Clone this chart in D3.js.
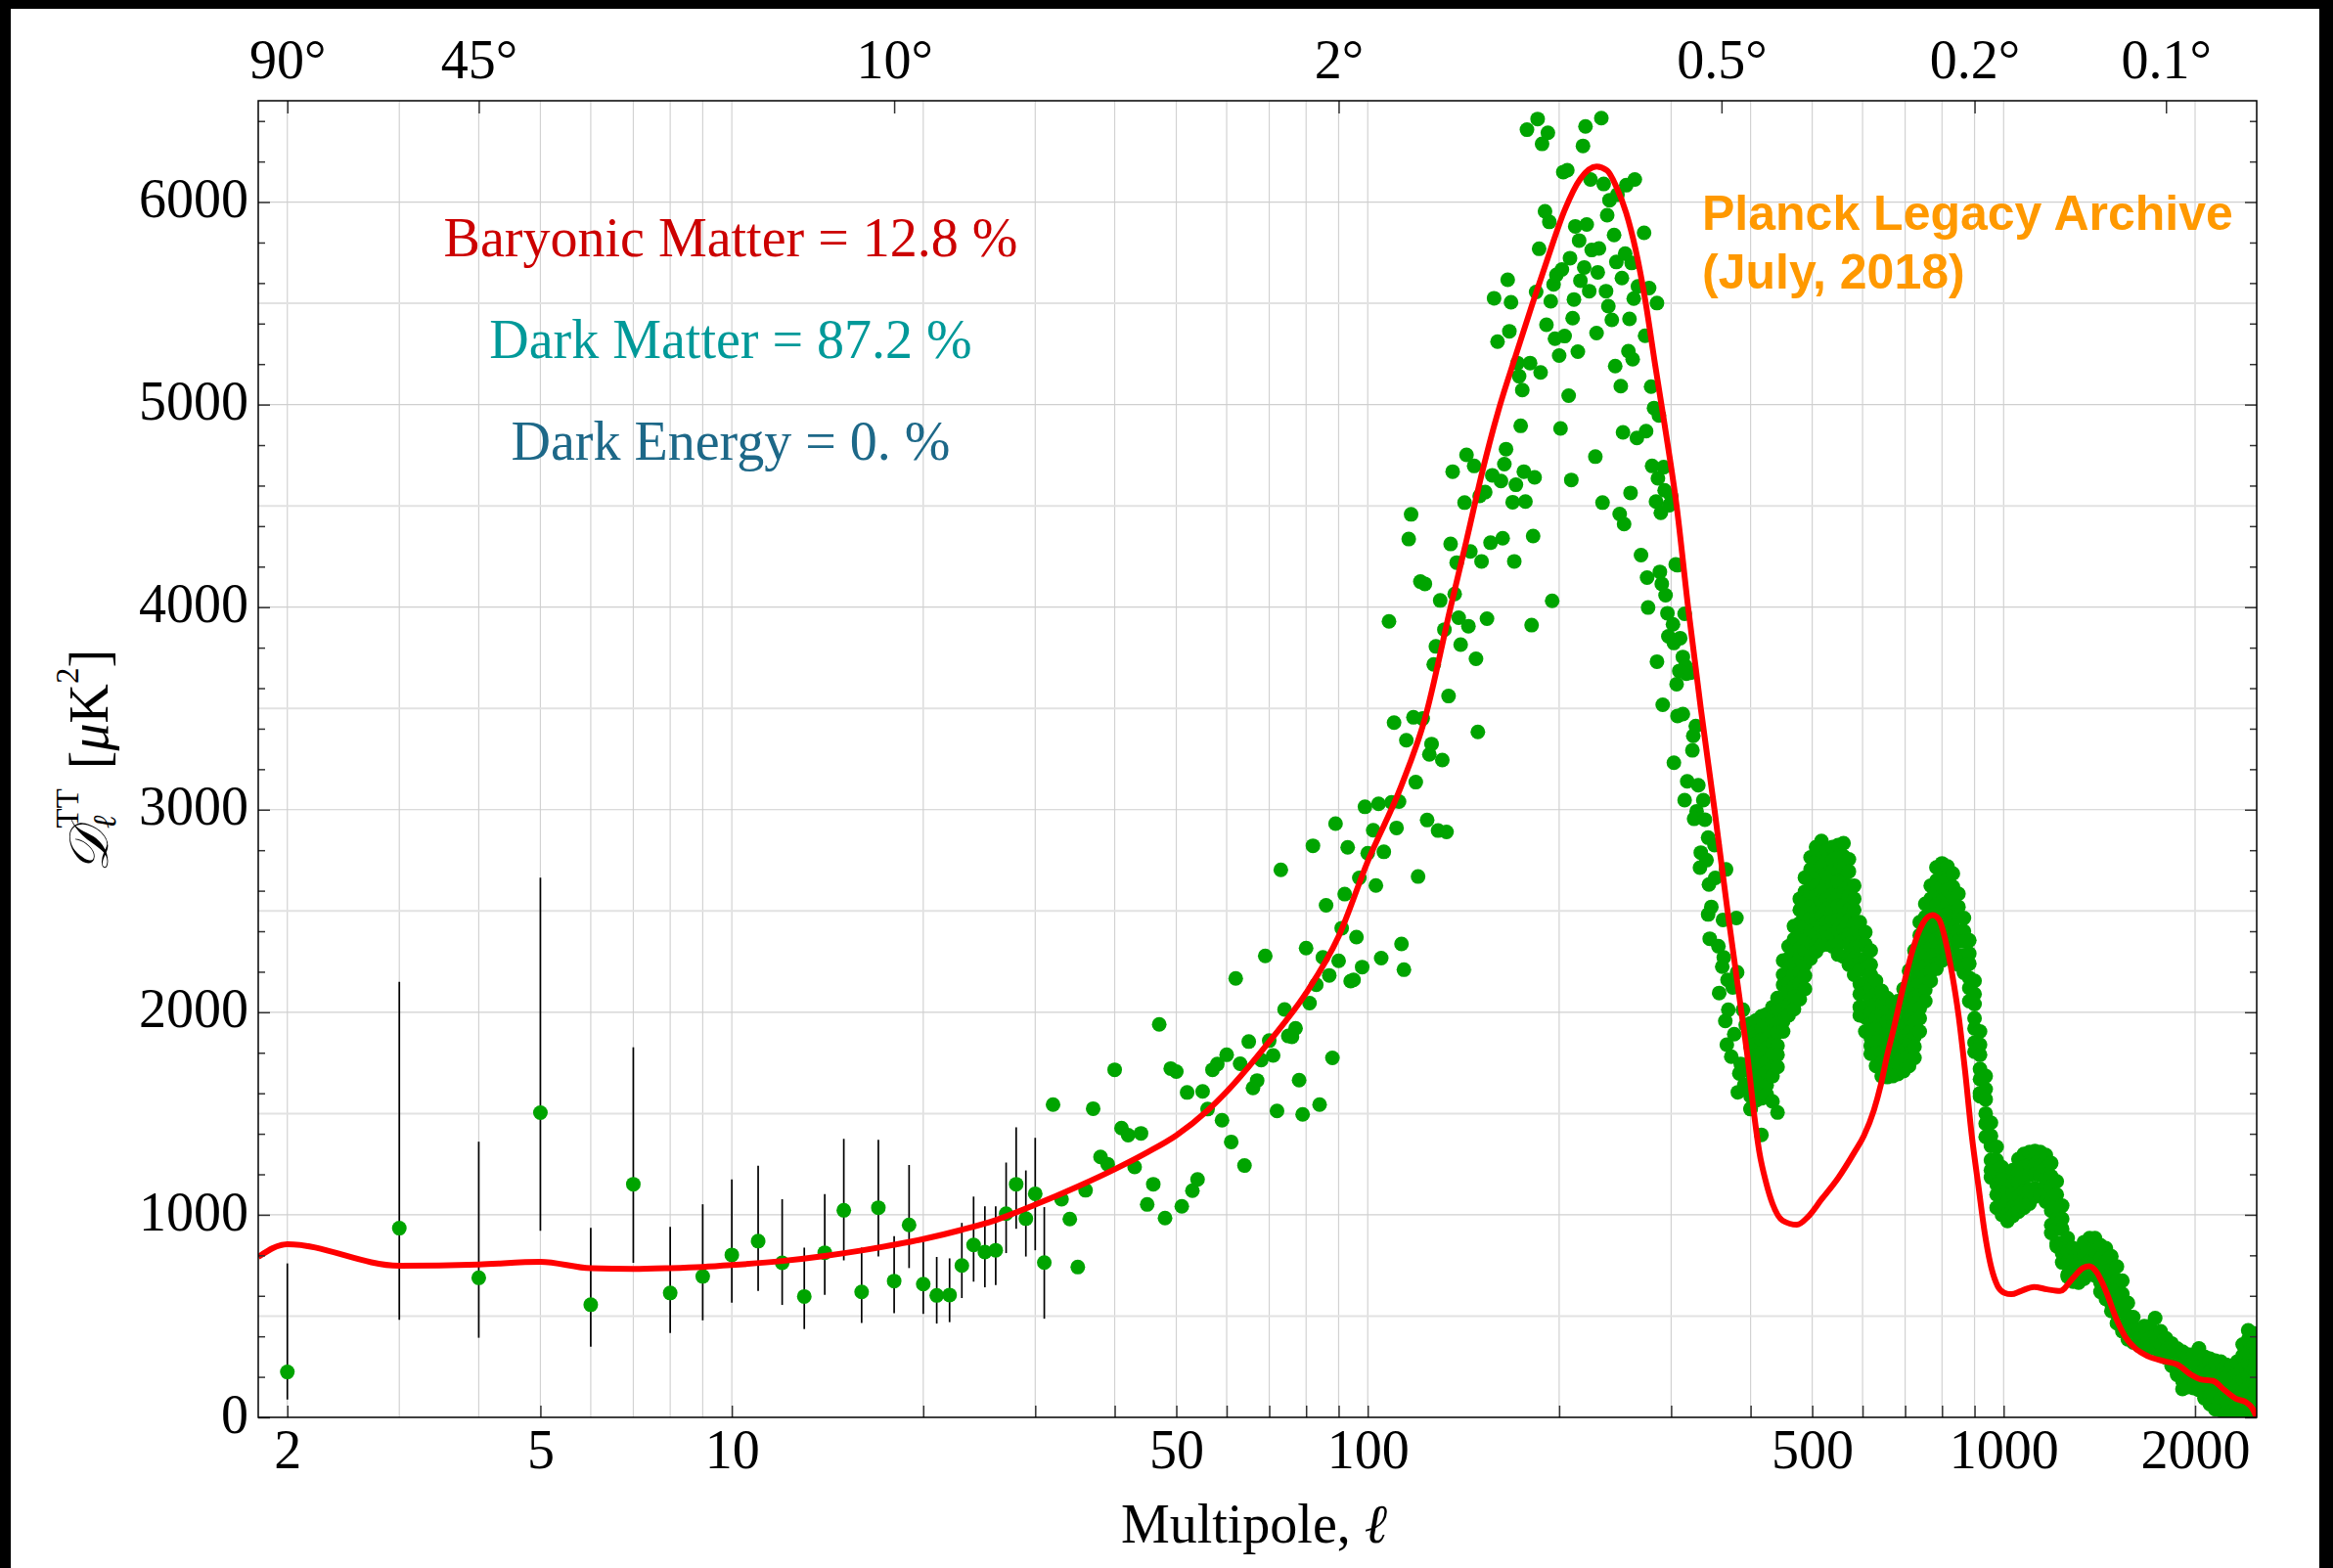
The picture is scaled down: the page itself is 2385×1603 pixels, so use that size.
<!DOCTYPE html>
<html><head><meta charset="utf-8">
<script src="https://cdn.jsdelivr.net/npm/d3@7"></script>
<style>
html,body{margin:0;padding:0;background:#000;}
svg{display:block;}
</style></head>
<body>
<svg id="chart" width="2385" height="1603"></svg>
<script>
// ---------------- DATA ----------------
// low-l points with error bars
const lowEll = [2,3,4,5,6,7,8,9,10,11,12,13,14,15,16,17,18,19,20,21,22,23,24,25,26,27,28,29,30,31];
const lowD   = [224,934,689,1504,556,1151,614,696,802,870,763,597,813,1022,619,1035,673,950,658,602,604,750,851,816,825,1006,1151,981,1104,764];
const lowLo  = [88,482,393,921,349,763,417,479,566,624,555,436,605,775,466,794,514,737,511,463,470,589,670,642,653,811,931,794,825,487];
const lowHi  = [760,2150,1361,2665,936,1827,941,1052,1175,1242,1077,838,1102,1375,838,1370,895,1246,868,792,785,960,1090,1042,1042,1258,1432,1219,1380,1038];

// scattered points, rising part
const risePts = [[32,1544],[33,1077],[34,979],[35,742],[36,1121],[37,1524],[38,1286],[39,1250],[40,1716],[41,1428],[42,1393],[43,1236],[44,1402],[45,1051],[46,1151],[47,1940],[48,984],[49,1722],[50,1707],[51,1042],[52,1604],[53,1119],[54,1175],[55,1609],[56,1522],[57,1716],[58,1744],[59,1467],[60,1790],[61,1360],[62,2167],[63,1746],[64,1243],[65,1855],[66,1626],[67,1663],[68,1764],[69,2278],[70,1860],[71,1787],[72,1513],[73,2703],[74,2014],[75,1883],[76,1879],[77,1921],[78,1665],[79,1496],[80,2317],[81,2045],[82,2822],[83,2136],[84,1544],[85,2271],[86,2528],[87,2182],[88,1775],[89,2931],[90,2254],[91,2415],[92,2583],[93,2814],[94,2154],[95,2160],[96,2371],[97,2663],[98,2223],[99,3014],[100,2785],
[102,2899],[103,2626],[104,3029],[105,2267],[106,2792],[109,3036],[110,3430],[111,2910],[112,3040],[113,2337],[114,2210],[115,3343],[118,3456],[119,3136],[120,2670],[122,3450],[124,2949],[125,3273],[126,3324],[129,2897],[131,3245],[133,2890],[134,3561],[149,3384]];

// scattered points, first acoustic peak
const peakPts = [[108,3930],[117,4458],[116,4336],[121,4126],[123,4115],[127,3717],[128,3806],[130,4033],[132,3889],[135,4312],[136,4669],[137,4065],[139,3948],[138,4220],[140,3815],[142,4516],[143,4752],[144,3906],[145,4275],[147,4697],[148,3745],[150,4549],[151,4226],[153,4568],[154,3943],[156,4318],[157,4651],[158,5525],[160,5311],[162,4623],[163,4340],[164,4706],[165,4780],[166,5616],[167,5362],[168,5505],[169,4518],[170,4226],[171,4604],[172,5205],[173,5140],[174,4895],[175,5072],[176,4669],[177,4521],[178,6357],[180,5205],[181,3911],[182,4351],[183,4641],[184,5556],[185,6410],[186,5769],[187,5159],[188,6287],[190,5954],[191,5394],[192,6342],[193,5902],[194,5510],[195,4031],[196,5593],[197,5325],[198,5640],[200,5242],[201,4882],[202,5667],[203,6148],[204,5338],[206,6157],[207,5044],[208,5723],[209,4628],[210,5427],[211,5519],[212,5880],[214,5261],[215,5810],[216,5612],[218,6277],[219,5677],[220,6373],[221,5889],[223,5560],[224,6111],[225,5763],[228,4743],[229,5353],[230,5653],[231,5771],[233,6414],[234,4516],[235,6089],[237,5560],[238,5935],[239,5486],[240,6009],[242,5418],[244,5837],[245,5190],[246,5704],[247,6037],[249,4460],[250,5091],[251,5625],[252,4863],[253,4410],[254,5745],[255,6083],[257,5264],[258,5423],[259,4564],[260,5699],[261,5224],[262,5523],[263,6111],[265,4835],[266,5584],[269,4257],[272,5848],[273,5340],[274,4869],[275,4146],[276,3998],[277,5575],[279,5089],[280,4697],[282,4983],[284,4521],[285,5501],[286,4636],[287,4946],[288,4174],[289,4466],[290,4115],[292,4691],[293,4577],[294,4059],[296,3970],[297,3856],[298,4503],[300,4549],[302,3915],[303,3823],[305,4211],[307,4207],[310,3847],[313,3754],[315,3967],[316,3708],[317,3671]];

// scattered points, falling edge of first peak
const fallPts = [[285,3731],[309,3685],[322,3676],[306,3620],[291,3518],[307,3463],[313,3472],[328,3413],[325,3365],[324,3293],[303,3232],[318,3140],[331,3121],[315,3047],[337,3047],[329,2992],[326,2955],[339,2951],[343,2862],[351,2825],[334,2788],[341,2751],[333,2714],[366,2705],[352,2663],[344,2631],[347,2520],[343,2483],[362,2456],[380,2465],[345,2363],[356,2326],[363,2271],[361,2225],[381,2197],[368,2160],[357,2095],[375,2123],[369,2012],[389,2012],[365,1957],[377,1892],[367,1840],[393,1938],[373,1781],[386,1744],[384,1698],[391,1642],[382,1605],[400,1522],[410,1827],[407,1679]];

// dense high-l points: [l, values at that l ...]
const bandCols = [
[400,1945,1875,1830,1755,1705,1645,1585,1525],
[408,1960,1910,1845,1790,1730,1685,1615,1565],
[416,1980,1915,1865,1800,1745,1685,1630,1575,1395],
[424,1990,1935,1870,1825,1755,1705,1640,1595],
[433,2025,1955,1905,1845,1795,1730,1685,1560],
[441,2070,2015,1945,1900,1835,1790,1730,1505],
[450,2255,2185,2135,2070,2020,1955,1905],
[459,2325,2265,2215,2145,2100,2035,1985],
[468,2425,2360,2305,2240,2190,2125,2075,2015],
[478,2560,2505,2440,2390,2315,2265,2195,2145,2065],
[487,2665,2595,2545,2475,2425,2360,2305,2235,2180,2115],
[497,2765,2705,2635,2590,2520,2465,2395,2345,2265],
[507,2815,2745,2695,2625,2575,2505,2455,2385,2335,2300],
[517,2845,2790,2720,2670,2595,2550,2475,2425,2355,2330],
[527,2800,2750,2680,2630,2560,2510,2445,2395,2335],
[538,2815,2750,2695,2630,2580,2505,2455,2385,2325],
[549,2825,2765,2695,2645,2575,2525,2455,2405,2335,2285],
[560,2835,2770,2715,2645,2595,2525,2475,2405,2355,2275],
[571,2755,2695,2625,2575,2505,2455,2385,2335,2265,2235],
[582,2625,2560,2505,2435,2385,2315,2265,2185],
[594,2445,2380,2330,2260,2210,2140,2090,2025,1985],
[606,2395,2335,2265,2215,2145,2095,2025,1975,1905],
[618,2305,2235,2185,2115,2065,1995,1945,1875,1835,1795],
[630,2155,2090,2040,1970,1920,1850,1800,1735],
[643,2105,2040,1990,1920,1870,1800,1750,1685],
[656,2070,2005,1955,1885,1835,1765,1715,1680],
[669,2045,1980,1930,1860,1810,1740,1685],
[682,2055,1990,1940,1870,1820,1750,1695],
[696,2115,2050,2000,1930,1880,1810,1765,1710],
[710,2205,2140,2090,2020,1970,1900,1850,1785,1735],
[724,2305,2240,2190,2120,2070,2000,1950,1880,1830,1775],
[738,2445,2380,2330,2260,2210,2140,2090,2020,1970,1905],
[753,2535,2470,2420,2350,2300,2230,2180,2110,2055],
[768,2625,2560,2510,2440,2390,2320,2270,2200,2155],
[784,2715,2650,2600,2530,2480,2410,2360,2290,2240,2215],
[800,2735,2670,2620,2550,2500,2430,2380,2310,2255],
[816,2720,2655,2605,2535,2485,2415,2365,2295,2275],
[832,2685,2620,2570,2500,2450,2380,2330,2265],
[849,2585,2520,2470,2400,2350,2280,2235],
[866,2465,2400,2350,2280,2230,2195],
[883,2355,2290,2240,2170,2120,2055],
[900,2155,2090,2040,1970,1920,1850,1805],
[918,1905,1840,1790,1720,1670,1600,1585],
[937,1685,1620,1570,1500,1450,1385],
[955,1455,1390,1340,1270,1220,1185],
[975,1335,1270,1220,1150,1100,1035],
[994,1235,1170,1120,1050,1000],
[1014,1185,1120,1070,1000,970],
[1034,1220,1155,1105,1035,995],
[1055,1275,1210,1160,1090,1040,1015],
[1076,1300,1235,1185,1115,1065,1035],
[1098,1310,1245,1195,1125,1075,1055],
[1120,1315,1250,1200,1130,1090],
[1142,1310,1245,1195,1125,1100],
[1165,1295,1230,1180,1110,1065],
[1188,1255,1190,1140,1070,1020,950,910],
[1212,1165,1100,1050,980,930,860,845],
[1236,1045,980,930,860,810,765],
[1261,885,820,770,705,695],
[1286,835,770,720,670],
[1312,830,765,715,665],
[1338,865,800,750,685],
[1365,885,820,770,705],
[1392,885,820,770,700],
[1420,850,785,735,665,620],
[1448,835,770,720,650,600,585],
[1477,795,730,680,610,560,525],
[1507,745,680,630,560,510,465],
[1537,675,610,560,490,445,425],
[1568,565,500,450,385],
[1599,495,430,370],
[1631,435,390,355],
[1664,450,395,355],
[1697,450,390,345],
[1731,490,400,340],
[1766,425,360,315],
[1801,390,330,295],
[1837,365,300,255],
[1874,340,275,225,210],
[1911,325,260,210,180,140],
[1949,310,245,195,150],
[1988,310,245,195,145],
[2028,340,250,200,135],
[2069,300,235,185,120,95],
[2110,290,225,175,110,65],
[2152,280,215,165,100,40],
[2195,275,210,160,95,35],
[2239,260,195,145,80,30],
[2284,255,190,140,75,30],
[2330,275,210,160,95,35],
[2376,360,305,240,190,125,70,30],
[2424,430,385,320,270,205,150,85,30],
[2472,415,350,300,235,185,120,60,30],
[2495,400,335,285,220,165,105,40]
];

// theory curve (red)
const theory = [[1.8,792],[2,855],[3,749],[4,755],[5,768],[6,736],[7,733],[8,737],[9,743],[10,752],[12,772],[14,797],[16,824],[18,852],[20,880],[23,926],[26,974],[30,1050],[35,1140],[40,1225],[45,1308],[50,1392],[56,1515],[60,1608],[70,1855],[80,2095],[90,2375],[100,2745],[113,3120],[123,3450],[135,4000],[143,4330],[152,4690],[161,4985],[171,5245],[181,5485],[192,5725],[204,5960],[216,6115],[229,6175],[238,6155],[246,6075],[255,5945],[264,5760],[273,5520],[283,5200],[293,4900],[306,4500],[319,4000],[334,3500],[351,3000],[368,2500],[387,2000],[396,1768],[405,1500],[413,1307],[423,1160],[433,1055],[449,972],[473,951],[493,992],[517,1076],[549,1181],[582,1307],[603,1391],[625,1516],[641,1642],[656,1789],[671,1915],[695,2124],[720,2313],[746,2438],[773,2480],[791,2459],[810,2355],[830,2187],[850,1977],[870,1705],[891,1391],[913,1139],[934,909],[956,741],[979,647],[1003,615],[1028,608],[1065,624],[1116,644],[1170,632],[1227,624],[1286,689],[1332,737],[1364,746],[1397,721],[1448,624],[1500,495],[1553,398],[1609,342],[1688,301],[1790,277],[1876,261],[1968,212],[2039,188],[2136,180],[2214,140],[2322,91],[2405,75],[2463,43],[2500,0]];

// axes
const gridEll = [2,3,4,5,6,7,8,9,10,20,30,40,50,60,70,80,90,100,200,300,400,500,600,700,800,900,1000,2000];
const tickEll = [2,5,10,20,30,40,50,60,70,80,90,100,200,300,400,500,600,700,800,900,1000,2000];
const labelEll = [2,5,10,50,100,500,1000,2000];
const angleDeg = [90,45,10,2,0.5,0.2,0.1];
const angleLabel = ["90°","45°","10°","2°","0.5°","0.2°","0.1°"];
const yMajor = [0,1000,2000,3000,4000,5000,6000];
const yMinor = [200,400,600,800,1200,1400,1600,1800,2200,2400,2600,2800,3200,3400,3600,3800,4200,4400,4600,4800,5200,5400,5600,5800,6200,6400];
const gridD = [500,1000,1500,2000,2500,3000,3500,4000,4500,5000,5500,6000];
const notes = ["Baryonic Matter = 12.8 %","Dark Matter = 87.2 %","Dark Energy = 0. %"];
const noteColors = ["#cc0000","#009999","#1d6888"];
const sourceLines = ["Planck Legacy Archive","(July, 2018)"];

// ---------------- DRAW ----------------
const serif = "'Liberation Serif','Times New Roman',serif";
const svg = d3.select("#chart");
svg.append("rect").attr("x",11).attr("y",9).attr("width",2360).attr("height",1594).attr("fill","#fff");

const X0=264, X1=2307, Y0=103, Y1=1449;
const x = d3.scaleLog().domain([1.8,2500]).range([X0,X1]);
const y = d3.scaleLinear().domain([0,6500]).range([Y1,Y0]);

svg.append("defs").append("clipPath").attr("id","clip")
  .append("rect").attr("x",X0).attr("y",Y0).attr("width",X1-X0).attr("height",Y1-Y0);

// grid
const grid = svg.append("g");
grid.selectAll("line.vg").data(gridEll).join("line").attr("class","vg")
  .attr("x1",d=>x(d)).attr("x2",d=>x(d)).attr("y1",Y0).attr("y2",Y1)
  .attr("stroke","#d2d2d2").attr("stroke-width",1.2);
grid.selectAll("line.hg").data(gridD).join("line").attr("class","hg")
  .attr("x1",X0).attr("x2",X1).attr("y1",d=>y(d)).attr("y2",d=>y(d))
  .attr("stroke",d=>d%1000===0?"#cfcfcf":"#e2e2e2").attr("stroke-width",d=>d%1000===0?1.2:2);

// annotations
svg.append("g").selectAll("text").data(notes).join("text")
  .attr("x",747).attr("y",(d,i)=>262+i*104)
  .attr("text-anchor","middle").attr("font-family",serif).attr("font-size",56)
  .attr("fill",(d,i)=>noteColors[i]).text(d=>d);
svg.append("g").selectAll("text").data(sourceLines).join("text")
  .attr("x",1740).attr("y",(d,i)=>235+i*60)
  .attr("font-family","'Liberation Sans',Arial,sans-serif").attr("font-weight","bold")
  .attr("font-size",50).attr("fill","#ff9900").text(d=>d);

const plot = svg.append("g").attr("clip-path","url(#clip)");

// error bars
plot.append("g").selectAll("line").data(lowEll).join("line")
  .attr("x1",d=>x(d)).attr("x2",d=>x(d))
  .attr("y1",(d,i)=>y(lowLo[i])).attr("y2",(d,i)=>y(lowHi[i]))
  .attr("stroke","#000").attr("stroke-width",1.7);

// points
const allPts = lowEll.map((l,i)=>[l,lowD[i]])
  .concat(risePts, peakPts, fallPts, bandCols.flatMap(c=>c.slice(1).map(v=>[c[0],v])));
plot.append("g").selectAll("circle").data(allPts).join("circle")
  .attr("cx",d=>x(d[0])).attr("cy",d=>y(d[1])).attr("r",7.5).attr("fill","#00a400");

// theory line
plot.append("path").datum(theory)
  .attr("d",d3.line().x(d=>x(d[0])).y(d=>y(d[1])).curve(d3.curveMonotoneX))
  .attr("fill","none").attr("stroke","#ff0000").attr("stroke-width",6).attr("stroke-linejoin","round");

// axes
function styleAxis(sel){
  sel.select(".domain").remove();
  sel.selectAll(".tick line").attr("stroke","#333").attr("stroke-width",1.5);
  sel.selectAll(".tick text").attr("font-family",serif).attr("font-size",56).attr("fill","#000");
}
svg.append("g").attr("transform",`translate(0,${Y1})`)
  .call(d3.axisBottom(x).tickValues(tickEll).tickSize(-12).tickPadding(12)
    .tickFormat(d=>labelEll.includes(d)?String(d):""))
  .call(styleAxis);
svg.append("g").attr("transform",`translate(0,${Y0})`)
  .call(d3.axisTop(x).tickValues(angleDeg.map(a=>180/a)).tickSize(-13).tickPadding(23)
    .tickFormat((d,i)=>angleLabel[i]))
  .call(styleAxis);
svg.append("g").attr("transform",`translate(${X0},0)`)
  .call(d3.axisLeft(y).tickValues(yMajor).tickSize(-12).tickPadding(10).tickFormat(d3.format("d")))
  .call(styleAxis).selectAll(".tick text").attr("dy","0.27em");
svg.append("g").attr("transform",`translate(${X0},0)`)
  .call(d3.axisLeft(y).tickValues(yMinor).tickSize(-7).tickFormat(""))
  .call(styleAxis);
svg.append("g").attr("transform",`translate(${X1},0)`)
  .call(d3.axisRight(y).tickValues(yMajor).tickSize(-12).tickFormat(""))
  .call(styleAxis);
svg.append("g").attr("transform",`translate(${X1},0)`)
  .call(d3.axisRight(y).tickValues(yMinor).tickSize(-7).tickFormat(""))
  .call(styleAxis);

// frame
svg.append("rect").attr("x",X0).attr("y",Y0).attr("width",X1-X0).attr("height",Y1-Y0)
  .attr("fill","none").attr("stroke","#000").attr("stroke-width",1.5);

// x label
const xl = svg.append("text").attr("x",1282).attr("y",1577).attr("text-anchor","middle")
  .attr("font-family",serif).attr("font-size",56);
xl.append("tspan").text("Multipole, ");
xl.append("tspan").attr("font-style","italic").text("ℓ");

// y label
const yl = svg.append("text").attr("transform","translate(110,778) rotate(-90)")
  .attr("text-anchor","middle").attr("font-family",serif).attr("font-size",56);
yl.append("tspan").attr("font-style","italic").text("𝒟");
yl.append("tspan").attr("font-size",33).attr("font-style","italic").attr("dy",8).text("ℓ");
yl.append("tspan").attr("font-size",33).attr("dx",-13).attr("dy",-38).text("TT");
yl.append("tspan").attr("dy",30).attr("dx",6).text(" [");
yl.append("tspan").attr("font-style","italic").text("μ");
yl.append("tspan").text("K");
yl.append("tspan").attr("font-size",33).attr("dy",-30).text("2");
yl.append("tspan").attr("dy",30).text("]");
</script>
</body></html>
